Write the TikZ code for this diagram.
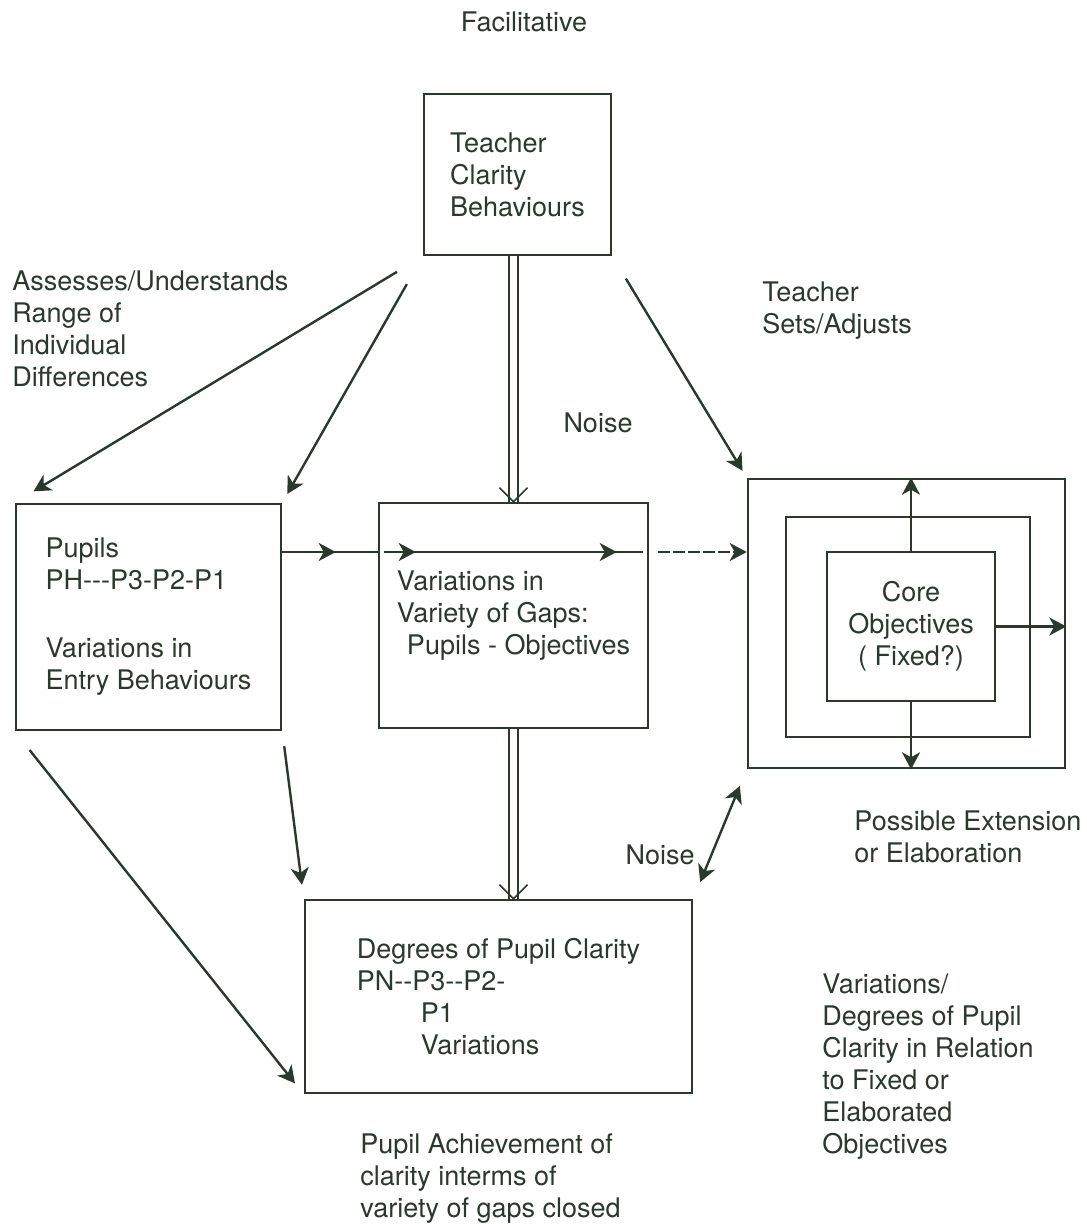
\documentclass[tikz,border=0pt]{standalone}
\usepackage{fontspec}
\setmainfont{TeX Gyre Heros}[Ligatures=TeXOff]
\usepackage{tikz}
\usetikzlibrary{positioning, arrows.meta, decorations.markings}
\definecolor{inkGreen}{RGB}{42,56,46}

\begin{document}
\begin{tikzpicture}[
    x=0.5pt, y=-0.5pt,
    font=\fontsize{13.5}{16}\selectfont, text=inkGreen,
    tipA/.tip={Stealth[length=8.5pt, width=9pt, inset=2.5pt]},
    box/.style={rectangle, draw=inkGreen, line width=1.3pt, align=left, inner sep=0pt},
    lbl/.style={align=left, anchor=north west, inner sep=0pt},
    shaft/.style={draw=inkGreen, line width=1.1pt},
    arr/.style={draw=inkGreen, line width=1.2pt, -tipA},
    midarr/.style={postaction=decorate, decoration={markings,
        mark=at position #1 with {\arrow{tipA}}}}
]
\useasboundingbox (0,0) rectangle (1086,1224);

% boxes
\node[box, minimum width=93.5pt, minimum height=80.5pt] (teacher) at (517.5,174.5) {Teacher\\Clarity\\Behaviours};
\node[box, minimum width=132.5pt, minimum height=113pt] (pupils) at (148.5,617) {Pupils\\PH---P3-P2-P1\\[18pt]Variations in\\Entry Behaviours};
\node[box, minimum width=134.5pt, minimum height=112.5pt] (gaps) at (513.5,615.5) {Variations in\\Variety of Gaps:\\\hspace*{5pt}Pupils - Objectives};
\node[box, minimum width=158.5pt, minimum height=144.5pt] (outer) at (906.5,623.5) {};
\node[box, minimum width=122pt, minimum height=110pt] (mid) at (908,627) {};
\node[box, align=center, minimum width=84pt, minimum height=74.5pt] (core) at (911,626.5) {Core\\Objectives\\( Fixed?)};
\node[box, minimum width=193.5pt, minimum height=96.5pt] (degrees) at (498.5,996.5) {Degrees of Pupil Clarity\\PN--P3--P2-\\\hspace*{32pt}P1\\\hspace*{32pt}Variations};

% free labels
\node (facil) at (524,22) {Facilitative};
\node[lbl] (assess) at (12,270) {Assesses/Understands\\Range of\\Individual\\Differences};
\node[lbl] (sets) at (762,281) {Teacher\\Sets/Adjusts};
\node (noiseA) at (598,423) {Noise};
\node[lbl] (extend) at (854,810) {Possible Extension\\or Elaboration};
\node (noiseB) at (660,855) {Noise};
\node[lbl] (relate) at (822,973) {Variations/\\Degrees of Pupil\\Clarity in Relation\\to Fixed or\\Elaborated\\Objectives};
\node[lbl] (achieve) at (360,1133) {Pupil Achievement of\\clarity interms of\\variety of gaps closed};

% diagonal arrows
\foreach \a/\b/\s/\e in {teacher.south west/pupils.north west/15pt/11pt,
                         teacher.south west/pupils.north east/16pt/5pt,
                         teacher.south east/outer.north west/13pt/4pt,
                         pupils.south west/degrees.south west/12pt/7pt,
                         pupils.south east/degrees.north west/7.5pt/7pt}
  \draw[arr, shorten <=\s, shorten >=\e] (\a) -- (\b);
\draw[arr, tipA-tipA, shorten <=9pt, shorten >=9pt] (degrees.north east) -- (outer.south west);

% row through the gaps
\coordinate (row) at (0,552);
\draw[shaft, midarr=0.56] (pupils.east |- row) -- (gaps.west |- row);
\draw[shaft, shorten <=3pt, shorten >=3pt, postaction=decorate, decoration={markings,
    mark=at position 0.14 with {\arrow{tipA}}, mark=at position 0.88 with {\arrow{tipA}}}]
  (gaps.west |- row) -- (gaps.east |- row);
\draw[arr, dash pattern=on 6pt off 1.5pt, shorten <=4.5pt] (gaps.east |- row) -- (outer.west |- row);

% extension of the core
\draw[arr] (core.north) -- (core.north |- outer.north);
\draw[arr] (core.south) -- (core.south |- outer.south);
\draw[arr] (core.east) -- (core.east -| outer.east);

% double shafts with open heads
\coordinate (dA) at (gaps.north |- teacher.south);
\coordinate (dB) at (gaps.south |- degrees.north);
\foreach \s in {-2.25pt, 2.25pt} {
  \draw[shaft] ([xshift=\s]dA) -- ([xshift=\s]gaps.north);
  \draw[shaft] ([xshift=\s]gaps.south) -- ([xshift=\s]dB);
}
\foreach \p in {gaps.north, dB}
  \draw[shaft, line width=0.8pt] ([shift={(-7pt,7pt)}]\p) -- (\p) -- ([shift={(7pt,7pt)}]\p);
\end{tikzpicture}
\end{document}
